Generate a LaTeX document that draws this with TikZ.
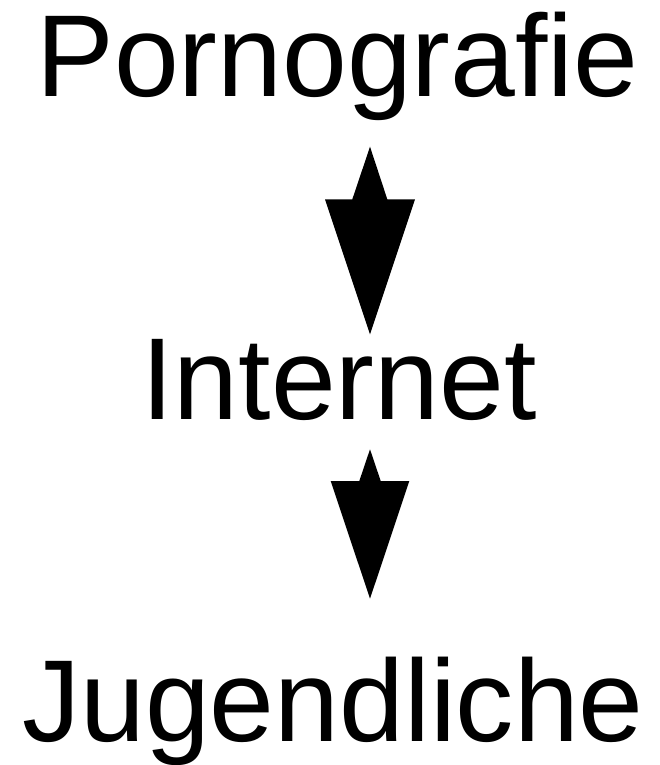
\documentclass[tikz,border=0pt]{standalone}
\usepackage{fontspec}
\setmainfont{Liberation Sans}
\begin{document}
\begin{tikzpicture}[x=1pt,y=-1pt,
  word/.style={anchor=base,inner sep=0pt,font=\fontsize{116.5}{140}\selectfont},
  kite/.style={fill=black,draw=none}]
\useasboundingbox (0,0) rectangle (659,765);
\node[word] (porn) at (337.5,96.5) {Pornografie};
\node[word] (inet) at (339,419) {Internet};
\node[word] (jug) at (333,741) {Jugendliche};
% arrow 1
\coordinate (a1t) at (370,146.7);
\coordinate (a1b) at (370,334.3);
\fill[kite] (a1t) -- (387.3,199.3) -- (415,199.3) -- (a1b) -- (325,199.3) -- (352.3,199.3) -- cycle;
% arrow 2
\coordinate (a2t) at (370,449.3);
\coordinate (a2b) at (370,598.7);
\fill[kite] (a2t) -- (380.7,481) -- (409.3,481) -- (a2b) -- (330.7,481) -- (359.3,481) -- cycle;
\end{tikzpicture}
\end{document}
